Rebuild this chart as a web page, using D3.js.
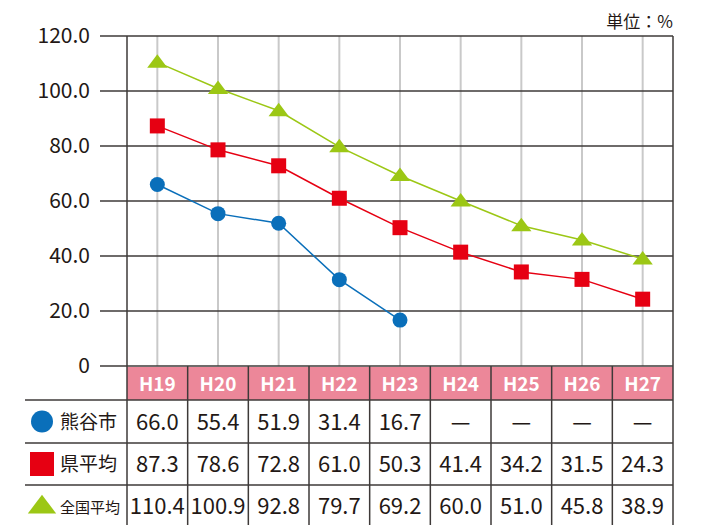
<!DOCTYPE html>
<html>
<head>
<meta charset="utf-8">
<script src="https://cdn.jsdelivr.net/npm/d3@7"></script>
<style>
  body { margin: 0; background: #fff; }
  text { font-family: "Noto Sans CJK JP", "Noto Sans", sans-serif; fill: #231815; }
</style>
</head>
<body>
<svg></svg>
<script>
// data
var years = ["H19", "H20", "H21", "H22", "H23", "H24", "H25", "H26", "H27"];
var kumagaya = [66.0, 55.4, 51.9, 31.4, 16.7, null, null, null, null];
var kenAvg = [87.3, 78.6, 72.8, 61.0, 50.3, 41.4, 34.2, 31.5, 24.3];
var zenkokuAvg = [110.4, 100.9, 92.8, 79.7, 69.2, 60.0, 51.0, 45.8, 38.9];
var yTicks = [0, 20, 40, 60, 80, 100, 120];

var series = [
  { name: "熊谷市", values: kumagaya, color: "#0a6fba", shape: "circle" },
  { name: "県平均", values: kenAvg, color: "#e60012", shape: "square" },
  { name: "全国平均", values: zenkokuAvg, color: "#9cc715", shape: "triangle" }
];

var width = 711, height = 525;
var plotLeft = 127, plotRight = 673, plotTop = 36, zeroY = 366;
var rowY = [366, 400, 443, 485, 527];
var labelLeft = 25;

var svg = d3.select("svg")
    .attr("width", width)
    .attr("height", height);

var x = d3.scaleBand()
    .domain(years)
    .range([plotLeft, plotRight]);

var y = d3.scaleLinear()
    .domain([0, 120])
    .range([zeroY, plotTop]);

var dark = "#3e3a39";

// vertical light grid
svg.append("g")
  .selectAll("line")
  .data(years)
  .enter()
  .append("line")
    .attr("x1", function(d) { return x(d) + x.bandwidth() / 2; })
    .attr("x2", function(d) { return x(d) + x.bandwidth() / 2; })
    .attr("y1", plotTop)
    .attr("y2", zeroY)
    .attr("stroke", "#c9c9c9")
    .attr("stroke-width", 2);

// horizontal grid + ticks
svg.append("g")
  .selectAll("line")
  .data(yTicks)
  .enter()
  .append("line")
    .attr("x1", 100)
    .attr("x2", plotRight)
    .attr("y1", function(d) { return y(d); })
    .attr("y2", function(d) { return y(d); })
    .attr("stroke", dark)
    .attr("stroke-width", 1.5);

svg.append("g")
  .selectAll("text")
  .data(yTicks)
  .enter()
  .append("text")
    .attr("x", 90)
    .attr("y", function(d) { return y(d) + 7; })
    .attr("text-anchor", "end")
    .attr("font-size", 21)
    .text(function(d) { return d === 0 ? "0" : d3.format(".1f")(d); });

// unit
svg.append("text")
  .attr("x", plotRight)
  .attr("y", 28)
  .attr("text-anchor", "end")
  .attr("font-size", 17)
  .text("単位：%");

// header row
svg.append("rect")
  .attr("x", plotLeft)
  .attr("y", rowY[0] + 1)
  .attr("width", plotRight - plotLeft)
  .attr("height", rowY[1] - rowY[0] - 1)
  .attr("fill", "#ec8799");

svg.append("g")
  .selectAll("text")
  .data(years)
  .enter()
  .append("text")
    .attr("x", function(d) { return x(d) + x.bandwidth() / 2; })
    .attr("y", rowY[0] + 25)
    .attr("text-anchor", "middle")
    .attr("font-size", 19)
    .attr("font-weight", "bold")
    .style("fill", "#fff")
    .text(function(d) { return d; });

// table horizontal lines
svg.append("g")
  .selectAll("line")
  .data(rowY.slice(1, 4))
  .enter()
  .append("line")
    .attr("x1", labelLeft)
    .attr("x2", plotRight)
    .attr("y1", function(d) { return d; })
    .attr("y2", function(d) { return d; })
    .attr("stroke", dark)
    .attr("stroke-width", 1.5);

// table vertical lines
svg.append("g")
  .selectAll("line")
  .data(years.slice(1))
  .enter()
  .append("line")
    .attr("x1", function(d) { return x(d); })
    .attr("x2", function(d) { return x(d); })
    .attr("y1", rowY[0])
    .attr("y2", height)
    .attr("stroke", dark)
    .attr("stroke-width", 1.5);

svg.append("line")
  .attr("x1", plotLeft).attr("x2", plotLeft)
  .attr("y1", plotTop).attr("y2", height)
  .attr("stroke", dark).attr("stroke-width", 1.5);
svg.append("line")
  .attr("x1", plotRight).attr("x2", plotRight)
  .attr("y1", plotTop).attr("y2", height)
  .attr("stroke", dark).attr("stroke-width", 1.5);

// markers
function drawMarker(g, shape, color, cx, cy, size) {
  if (shape === "circle") {
    g.append("circle").attr("cx", cx).attr("cy", cy).attr("r", size / 2).attr("fill", color);
  } else if (shape === "square") {
    g.append("rect").attr("x", cx - size / 2).attr("y", cy - size / 2)
      .attr("width", size).attr("height", size).attr("fill", color);
  } else {
    var w = size * 1.35, h = size * 0.9;
    g.append("path")
      .attr("d", "M" + cx + "," + (cy - h * 0.6) + "L" + (cx + w / 2) + "," + (cy + h * 0.4) +
                 "L" + (cx - w / 2) + "," + (cy + h * 0.4) + "Z")
      .attr("fill", color);
  }
}

var line = d3.line()
    .defined(function(d) { return d.v != null; })
    .x(function(d) { return x(d.year) + x.bandwidth() / 2; })
    .y(function(d) { return y(d.v); });

series.slice().reverse().forEach(function(s) {
  var pts = years.map(function(yr, i) { return { year: yr, v: s.values[i] }; });
  var g = svg.append("g");
  g.append("path")
    .datum(pts)
    .attr("d", line)
    .attr("fill", "none")
    .attr("stroke", s.color)
    .attr("stroke-width", 1.5);
  pts.forEach(function(p) {
    if (p.v == null) return;
    drawMarker(g, s.shape, s.color, x(p.year) + x.bandwidth() / 2, y(p.v), 15);
  });
});

// table rows
series.forEach(function(s, r) {
  var mid = (rowY[r + 1] + rowY[r + 2]) / 2;
  var legendSize = s.shape === "circle" ? 22 : (s.shape === "square" ? 24 : 21);
  drawMarker(svg, s.shape, s.color, 42, mid, legendSize);
  svg.append("text")
    .attr("x", 60)
    .attr("y", mid + 7)
    .attr("font-size", s.name.length > 3 ? 15 : 19)
    .text(s.name);
  svg.append("g")
    .selectAll("text")
    .data(years)
    .enter()
    .append("text")
      .attr("x", function(d) { return x(d) + x.bandwidth() / 2; })
      .attr("y", mid + 8)
      .attr("text-anchor", "middle")
      .attr("font-size", 22)
      .text(function(d, i) { return s.values[i] == null ? "—" : d3.format(".1f")(s.values[i]); });
});
</script>
</body>
</html>
